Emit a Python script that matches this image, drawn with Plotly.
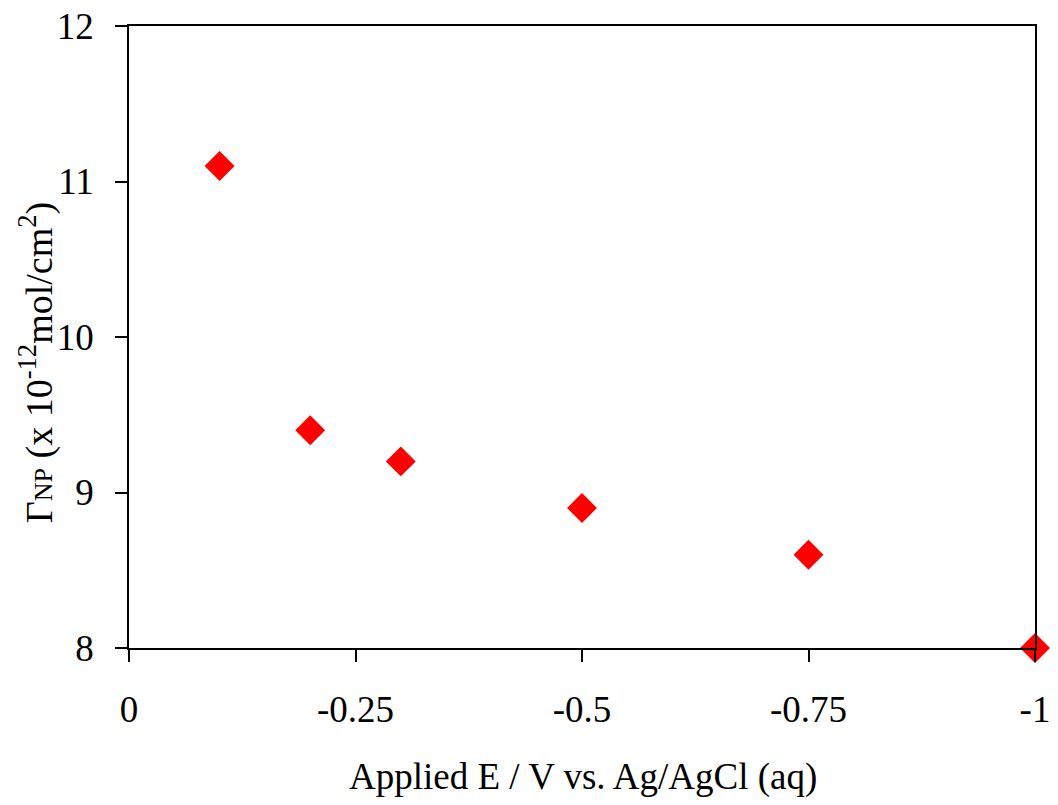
import plotly.graph_objects as go

# Applied potential (V vs. Ag/AgCl) and nanoparticle surface coverage
potential_v = [-0.1, -0.2, -0.3, -0.5, -0.75, -1.0]
coverage = [11.1, 9.4, 9.2, 8.9, 8.6, 8.0]

x_ticks = [0, -0.25, -0.5, -0.75, -1]
x_tick_text = ["0", "-0.25", "-0.5", "-0.75", "-1"]
y_ticks = [8, 9, 10, 11, 12]

FONT = "Liberation Serif, Times New Roman, serif"

fig = go.Figure()
fig.add_trace(go.Scatter(
    x=potential_v,
    y=coverage,
    mode="markers",
    marker=dict(symbol="diamond", size=23, color="#FF0000", line=dict(width=0)),
    cliponaxis=False,
    showlegend=False,
))

axis_common = dict(
    showline=True, linecolor="black", linewidth=1.5, mirror=True,
    ticks="outside", ticklen=12, tickwidth=1.5, tickcolor="black",
    showgrid=False, zeroline=False,
    tickfont=dict(family=FONT, size=37, color="black"),
)

fig.update_xaxes(range=[0, -1], tickvals=x_ticks, ticktext=x_tick_text,
                 ticklabelstandoff=16, **axis_common)
fig.update_yaxes(range=[8, 12], tickvals=y_ticks,
                 ticklabelstandoff=14, **axis_common)

fig.add_annotation(
    text="Applied E / V vs. Ag/AgCl (aq)",
    xref="paper", yref="paper", x=0.501, y=-0.207,
    xanchor="center", yanchor="middle", showarrow=False,
    font=dict(family=FONT, size=37, color="black"),
)
fig.add_annotation(
    text="Γ<span style='font-size:26px'>NP</span> (x 10<sup>-12</sup>mol/cm<sup>2</sup>)",
    xref="paper", yref="paper", x=-0.1026, y=0.458,
    xanchor="center", yanchor="middle", showarrow=False, textangle=-90,
    font=dict(family=FONT, size=38, color="black"),
)

fig.update_layout(
    width=1058, height=805,
    margin=dict(l=129, r=23, t=26, b=157, autoexpand=False),
    paper_bgcolor="white", plot_bgcolor="white",
)

fig.write_html("out.html")
